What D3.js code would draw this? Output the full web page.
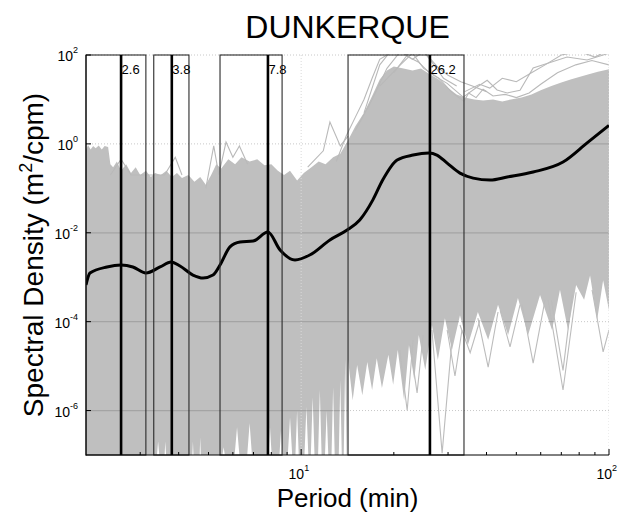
<!DOCTYPE html>
<html><head><meta charset="utf-8">
<script src="https://cdn.jsdelivr.net/npm/d3@7"></script>
<style>
body{margin:0;background:#fff}
svg{display:block}
text{font-family:"Liberation Sans",Arial,Helvetica,sans-serif;fill:#000}
</style>
</head><body>
<svg id="chart" width="618" height="513"></svg>
<script>
// ---------------- DATA ----------------
const chartTitle = "DUNKERQUE";
const xLabelText = "Period (min)";

// mean spectrum (black line)
const meanPeriods = [2.0, 2.06, 2.34, 2.6, 2.84, 3.13, 3.48, 3.78, 4.04, 4.45, 4.80, 5.17, 5.45, 5.87, 6.33, 6.98, 7.8, 8.54, 9.55, 10.7, 12.4, 14.1, 15.5, 17.1, 18.4, 20.5, 23.1, 26.0, 27.6, 29.8, 32.8, 36.2, 41.1, 46.7, 56.7, 70.9, 84.9, 100];
const meanValues  = [6.7e-4, 1.24e-3, 1.7e-3, 1.88e-3, 1.7e-3, 1.24e-3, 1.7e-3, 2.2e-3, 1.79e-3, 1.12e-3, 9.6e-4, 1.12e-3, 1.88e-3, 4.8e-3, 6.2e-3, 6.5e-3, 1.04e-2, 4.1e-3, 2.44e-3, 3.2e-3, 6.9e-3, 1.15e-2, 1.94e-2, 5.5e-2, 0.154, 0.434, 0.56, 0.62, 0.56, 0.37, 0.22, 0.17, 0.154, 0.18, 0.233, 0.39, 1.05, 2.6];

// upper envelope of the bundle of individual spectra
const upperPeriods = [2.0, 2.03, 2.07, 2.11, 2.15, 2.2, 2.25, 2.3, 2.36, 2.4, 2.45, 2.52, 2.6, 2.7, 2.8, 2.9, 3.0, 3.13, 3.25, 3.35, 3.5, 3.65, 3.8, 3.95, 4.1, 4.3, 4.5, 4.7, 4.9, 5.1, 5.3, 5.5, 5.8, 6.1, 6.4, 6.8, 7.2, 7.6, 8.0, 8.4, 8.8, 9.2, 9.7, 10.2, 10.8, 11.4, 12.0, 12.7, 13.4, 14.2, 15.0, 16.0, 17.0, 18.0, 19.0, 20.0, 21.5, 23, 24.5, 26, 28, 30, 32, 34, 36.5, 39, 42, 45, 48, 52, 56, 60, 65, 70, 75, 80, 86, 92, 100];
const upperValues  = [0.73, 0.94, 0.75, 0.9, 0.8, 0.92, 0.75, 0.9, 0.85, 0.35, 0.3, 0.4, 0.25, 0.35, 0.22, 0.3, 0.2, 0.25, 0.18, 0.22, 0.2, 0.25, 0.18, 0.22, 0.17, 0.2, 0.14, 0.18, 0.12, 0.2, 0.35, 0.28, 0.45, 0.35, 0.5, 0.4, 0.45, 0.33, 0.35, 0.25, 0.2, 0.25, 0.15, 0.22, 0.3, 0.4, 0.35, 0.5, 0.6, 1.2, 2.5, 5, 12, 28, 45, 55, 50, 45, 50, 38, 28, 18, 13, 11, 10, 9.5, 10, 9, 10, 11, 13, 16, 20, 24, 28, 32, 37, 42, 48];

// lower envelope of the bundle
const lowerPeriods = [2.0, 3.40, 3.43, 3.46, 3.60, 3.62, 3.64, 4.43, 4.45, 4.47, 4.68, 4.70, 4.72, 5.55, 5.60, 5.65, 6.08, 6.19, 6.30, 6.68, 6.80, 6.92, 7.84, 7.92, 8.02, 8.5, 8.6, 8.7, 9.05, 9.20, 9.35, 9.58, 9.70, 9.82, 10.25, 10.4, 10.55, 10.75, 10.9, 11.05, 11.35, 11.5, 11.65, 11.95, 12.1, 12.25, 12.55, 12.7, 12.85, 13.25, 13.4, 13.55, 13.75, 13.9, 14.05, 14.15, 14.2, 14.7, 15.2, 15.8, 16.4, 17.0, 17.6, 18.3, 19.2, 19.9, 20.6, 21.6, 22.4, 23.3, 24.1, 25.3, 26.6, 27.8, 29.3, 30.9, 32.8, 34.8, 37.5, 40.5, 43.6, 47.0, 50.6, 54.6, 59.7, 65.3, 69.3, 73.6, 78.2, 83.0, 86.8, 91.5, 95.7, 100];
const lowerValues  = [1e-8, 1e-8, 2e-7, 1e-8, 1e-8, 2e-7, 1e-8, 1e-8, 2e-7, 1e-8, 1e-8, 2.5e-7, 1e-8, 1e-8, 1.5e-7, 1e-8, 1e-8, 4.2e-7, 1e-8, 1e-8, 5.2e-7, 1e-8, 1e-8, 4.2e-7, 1e-8, 1e-8, 3.5e-7, 1e-8, 1e-8, 7.1e-7, 1e-8, 1e-8, 1e-6, 1e-8, 1e-8, 1.2e-6, 1e-8, 1e-8, 2e-6, 1e-8, 1e-8, 2.9e-6, 1e-8, 1e-8, 1e-6, 1e-8, 1e-8, 3.4e-6, 1e-8, 1e-8, 4.9e-6, 1e-8, 1e-8, 1.4e-5, 1e-8, 1e-8, 1.4e-5, 1.7e-6, 1.06e-5, 2.2e-6, 1.24e-5, 2.9e-6, 1.5e-5, 3.2e-6, 1.8e-5, 3.8e-6, 2.3e-5, 1.7e-6, 3.0e-5, 4.9e-6, 5.0e-5, 8.2e-6, 8.4e-5, 1.37e-5, 1.2e-4, 2.3e-5, 1.4e-4, 3.0e-5, 1.65e-4, 3.9e-5, 2.4e-4, 5.0e-5, 3.4e-4, 5.0e-5, 4.0e-4, 6.5e-5, 5.2e-4, 6.5e-5, 6.7e-4, 3.1e-4, 1.1e-3, 1.09e-4, 8.6e-4, 1.8e-4];

// isolated spectra sticking out above the bundle
const outlierAPeriods = [20, 22, 24, 26.2, 29.8, 33.6, 37.3, 40.2, 43.3, 46.7, 51.4, 56.7, 73.1, 84.9, 100];
const outlierAValues  = [40, 95, 70, 39, 23, 11.3, 19, 27, 16.3, 14, 16, 51, 90, 77, 110];
const outlierBPeriods = [18, 21, 23, 25, 28, 31, 33.8, 35, 37, 39, 42, 46, 50, 55, 60, 68, 78, 88, 100];
const outlierBValues  = [20, 60, 110, 50, 30, 14, 9, 14, 11, 17, 12, 13, 11, 14, 22, 40, 60, 75, 60];
const outlierCPeriods = [15, 17, 19, 21, 23, 25, 27, 29, 32];
const outlierCValues  = [2, 10, 50, 120, 80, 120, 60, 30, 20];
const outlierDPeriods = [10.5, 11.8, 12.4, 13.4, 14.2];
const outlierDValues  = [0.3, 0.7, 3.1, 0.9, 1.5];
const outlierEPeriods = [4.9, 5.2, 5.4, 5.7, 6.0, 6.3, 6.7];
const outlierEValues  = [0.1, 0.9, 0.2, 1.1, 0.5, 0.9, 0.35];
const outlierFPeriods = [2.4, 2.6, 2.8, 3.6, 3.9, 4.1];
const outlierFValues  = [0.2, 0.45, 0.2, 0.2, 0.5, 0.2];
const outlierGPeriods = [13, 14, 15, 16, 17, 18, 19];
const outlierGValues  = [0.4, 1.5, 4, 10, 30, 80, 100];
const outlierHPeriods = [16, 18, 20, 22, 24, 26, 28, 30, 33, 36, 40];
const outlierHValues  = [5, 60, 150, 100, 150, 90, 50, 35, 25, 20, 15];
const outlierIPeriods = [34, 38, 41, 45, 50, 56, 62, 70, 80, 90, 100];
const outlierIValues  = [15, 22, 18, 30, 25, 40, 60, 100, 120, 90, 130];

// individual spectra dipping below the bundle (V shapes)
const vLinePeriods = [[26.6, 28.7, 30.9], [32.8, 35.4, 38.1], [37.5, 40.5, 43.6], [44.3, 47.7, 51.4], [52.2, 56.7, 62.0], [63.4, 70.9, 78.2], [65, 70.9, 76], [88.1, 95.7, 100], [20.9, 22.1, 23.1], [22.6, 23.8, 24.9], [29.8, 31.6, 33.3]];
const vLineValues  = [[6.5e-5, 1.1e-7, 3.9e-5], [8.4e-5, 2.0e-5, 1.09e-4], [1.2e-4, 9.5e-6, 1.65e-4], [1.8e-4, 2.7e-5, 2.4e-4], [2.4e-4, 1.17e-5, 3.1e-4], [3.1e-4, 2.9e-6, 4.6e-4], [3.0e-4, 8e-6, 4.0e-4], [5.2e-4, 2.1e-5, 6.5e-5], [2.3e-5, 1.0e-6, 3.9e-5], [3.0e-5, 2.5e-6, 5.0e-5], [6.5e-5, 6e-6, 6.5e-5]];

// highlighted peaks and their bands
const peakPeriods = [2.6, 3.8, 7.8, 26.2];
const peakLabels  = ["2.6", "3.8", "7.8", "26.2"];
const bandStart   = [2.0, 3.32, 5.45, 14.2];
const bandEnd     = [3.13, 4.32, 8.67, 33.8];

// axes
const yTickExps = [2, 0, -2, -4, -6];
const xTickExps = [1, 2];
const xMinorTicks = [3, 4, 5, 6, 7, 8, 9, 20, 30, 40, 50, 60, 70, 80, 90];

// ---------------- DRAW ----------------
const svg = d3.select("#chart");
const L = 86, R = 609, T = 55, B = 455;
const x = d3.scaleLog().domain([2, 100]).range([L, R]);
const y = d3.scaleLog().domain([1e-7, 1e2]).range([B, T]).clamp(true);
const yFree = d3.scaleLog().domain([1e-7, 1e2]).range([B, T]);

const defs = svg.append("defs");
defs.append("clipPath").attr("id", "plotClip")
  .append("rect").attr("x", L).attr("y", T - 1).attr("width", R - L).attr("height", B - T + 1);

const upperPts = upperPeriods.map((p, i) => [p, upperValues[i]]);
const lowerPts = lowerPeriods.map((p, i) => [p, lowerValues[i]]);
const polyPts = upperPts.concat(lowerPts.slice().reverse());
const lineGen = d3.line().x(d => x(d[0])).y(d => y(d[1]));
const bundlePath = lineGen(polyPts) + "Z";

defs.append("clipPath").attr("id", "bundleClip")
  .append("path").attr("d", bundlePath);

const plot = svg.append("g").attr("clip-path", "url(#plotClip)");

// light dotted grid (visible on white)
const yGridVals = yTickExps.map(e => Math.pow(10, e));
plot.append("g").selectAll("line").data(yGridVals).join("line")
  .attr("x1", L).attr("x2", R).attr("y1", d => y(d)).attr("y2", d => y(d))
  .attr("stroke", "#c8c8c8").attr("stroke-width", 1).attr("stroke-dasharray", "1,2");

// bundle fill
plot.append("path").attr("d", bundlePath).attr("fill", "#bfbfbf").attr("stroke", "none");

// outlier spectra
const outliers = [
  [outlierAPeriods, outlierAValues], [outlierBPeriods, outlierBValues],
  [outlierCPeriods, outlierCValues], [outlierDPeriods, outlierDValues],
  [outlierEPeriods, outlierEValues], [outlierFPeriods, outlierFValues],
  [outlierGPeriods, outlierGValues], [outlierHPeriods, outlierHValues],
  [outlierIPeriods, outlierIValues]
];
const freeLine = d3.line().x(d => x(d[0])).y(d => yFree(d[1]));
plot.append("g").selectAll("path").data(outliers).join("path")
  .attr("d", o => freeLine(o[0].map((p, i) => [p, o[1][i]])))
  .attr("fill", "none").attr("stroke", "#b9b9b9").attr("stroke-width", 1.1);

plot.append("g").selectAll("path").data(vLinePeriods).join("path")
  .attr("d", (ps, k) => freeLine(ps.map((p, i) => [p, vLineValues[k][i]])))
  .attr("fill", "none").attr("stroke", "#bcbcbc").attr("stroke-width", 1.1);

// darker grid lines where they cross the bundle
plot.append("g").attr("clip-path", "url(#bundleClip)")
  .selectAll("line").data(yGridVals).join("line")
  .attr("x1", L).attr("x2", R).attr("y1", d => y(d)).attr("y2", d => y(d))
  .attr("stroke", "#a4a4a4").attr("stroke-width", 1.2);

// vertical major grid
plot.append("g").selectAll("line").data(xTickExps.map(e => Math.pow(10, e))).join("line")
  .attr("x1", d => x(d)).attr("x2", d => x(d)).attr("y1", T).attr("y2", B)
  .attr("stroke", "#dadada").attr("stroke-width", 1).attr("stroke-dasharray", "1,2");

// bands
svg.append("g").selectAll("rect").data(bandStart).join("rect")
  .attr("x", (d, i) => x(d)).attr("y", T)
  .attr("width", (d, i) => x(bandEnd[i]) - x(d)).attr("height", B - T)
  .attr("fill", "none").attr("stroke", "#2a2a2a").attr("stroke-width", 1.1);

// peak lines
svg.append("g").selectAll("line").data(peakPeriods).join("line")
  .attr("x1", d => x(d)).attr("x2", d => x(d)).attr("y1", T).attr("y2", B)
  .attr("stroke", "#000").attr("stroke-width", 2.6);

// mean spectrum
plot.append("path")
  .attr("d", d3.line().x(d => x(d[0])).y(d => y(d[1])).curve(d3.curveMonotoneX)(meanPeriods.map((p, i) => [p, meanValues[i]])))
  .attr("fill", "none").attr("stroke", "#000").attr("stroke-width", 3).attr("stroke-linejoin", "round");

// peak labels
svg.append("g").selectAll("text").data(peakPeriods).join("text")
  .attr("x", d => x(d) + 0.5).attr("y", 74)
  .attr("font-size", 13).text((d, i) => peakLabels[i]);

// axes lines
svg.append("line").attr("x1", L).attr("x2", L).attr("y1", T).attr("y2", B + 0.5).attr("stroke", "#000").attr("stroke-width", 1);
svg.append("line").attr("x1", L).attr("x2", R).attr("y1", B).attr("y2", B).attr("stroke", "#000").attr("stroke-width", 1);

// ticks (inward)
svg.append("g").selectAll("line").data(yGridVals).join("line")
  .attr("x1", L).attr("x2", L + 5).attr("y1", d => y(d)).attr("y2", d => y(d)).attr("stroke", "#000");
svg.append("g").selectAll("line").data(xTickExps.map(e => Math.pow(10, e))).join("line")
  .attr("x1", d => x(d)).attr("x2", d => x(d)).attr("y1", B).attr("y2", B - 6).attr("stroke", "#000");
svg.append("g").selectAll("line").data(xMinorTicks).join("line")
  .attr("x1", d => x(d)).attr("x2", d => x(d)).attr("y1", B).attr("y2", B - 3).attr("stroke", "#000");

// tick labels
const yLab = svg.append("g").selectAll("text").data(yTickExps).join("text")
  .attr("x", 78).attr("y", d => y(Math.pow(10, d)) + 6).attr("text-anchor", "end").attr("font-size", 14);
yLab.append("tspan").text("10");
yLab.append("tspan").attr("dy", -8).attr("font-size", 9).text(d => String(d));

const xLab = svg.append("g").selectAll("text").data(xTickExps).join("text")
  .attr("x", d => Math.min(x(Math.pow(10, d)) + 8, 617)).attr("y", 479).attr("text-anchor", "end").attr("font-size", 14);
xLab.append("tspan").text("10");
xLab.append("tspan").attr("dy", -8).attr("font-size", 9).text(d => String(d));

// title and axis labels
svg.append("text").attr("x", (L + R) / 2).attr("y", 38).attr("text-anchor", "middle")
  .attr("font-size", 32).text(chartTitle);
svg.append("text").attr("x", (L + R) / 2).attr("y", 507).attr("text-anchor", "middle")
  .attr("font-size", 26).text(xLabelText);
const yl = svg.append("text").attr("transform", `translate(43,${(T + B) / 2}) rotate(-90)`)
  .attr("text-anchor", "middle").attr("font-size", 28);
yl.append("tspan").text("Spectral Density (m");
yl.append("tspan").attr("dy", -11).attr("font-size", 18).text("2");
yl.append("tspan").attr("dy", 11).text("/cpm)");
</script>
</body></html>
